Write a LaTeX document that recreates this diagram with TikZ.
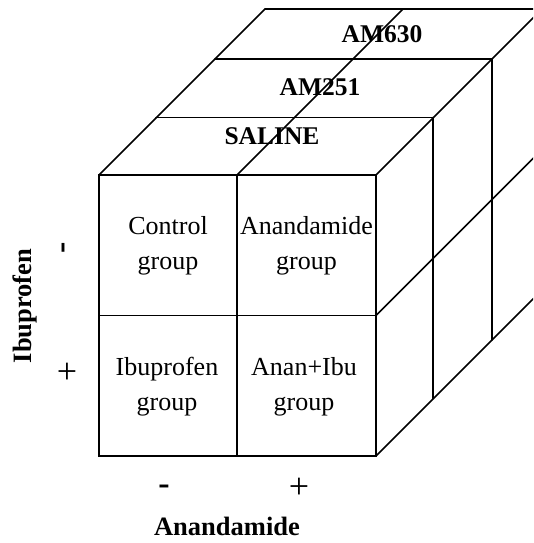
\documentclass[tikz,border=0pt]{standalone}
\usepackage{fontspec}
\setmainfont{Liberation Serif}
\begin{document}
\begin{tikzpicture}[x=1pt,y=-1pt,
  edge/.style={line width=1.7pt,line cap=round,line join=miter},
  celltext/.style={align=center,font=\fontsize{26}{35}\selectfont,inner sep=0pt},
  layerlabel/.style={anchor=base,font=\fontsize{25.5}{30}\selectfont\bfseries,inner sep=0pt},
  axislabel/.style={font=\fontsize{26.5}{30}\selectfont\bfseries,inner sep=0pt},
  signtext/.style={font=\fontsize{36}{38}\selectfont,inner sep=0pt},
  minustext/.style={font=\fontsize{34}{36}\selectfont\bfseries,inner sep=0pt}]
\useasboundingbox (0,0) rectangle (533,543);
\clip (0,0) rectangle (533,543);
% front face corners
\coordinate (ftl) at (99,175);
\coordinate (ftm) at (237,175);
\coordinate (ftr) at (376,175);
\coordinate (fml) at (99,315.5);
\coordinate (fmm) at (237,315.5);
\coordinate (fmr) at (376,315.5);
\coordinate (fbl) at (99,456);
\coordinate (fbm) at (237,456);
\coordinate (fbr) at (376,456);
% back layer corners
\coordinate (atl) at (156,117.5);
\coordinate (atr) at (433,117.5);
\coordinate (abr) at (433,398.5);
\coordinate (btl) at (215,59);
\coordinate (btr) at (492,59);
\coordinate (bbr) at (492,340);
\coordinate (ctl) at (265,9);
\coordinate (ctm) at (403,9);
\coordinate (ctr) at (542,9);
\coordinate (cmr) at (542,149.5);
\coordinate (cbr) at (542,290);
% labels
\node[layerlabel] (saline) at (272,144) {SALINE};
\node[layerlabel] (am251) at (320,95) {AM251};
\node[layerlabel] (am630) at (382,43) {AM630};
\node[celltext] (c11) at (168,246) {Control\\group};
\node[celltext] (c12) at (306.5,246) {Anandamide\\group};
\node[celltext] (c21) at (167,386.5) {Ibuprofen\\group};
\node[celltext] (c22) at (304,386.5) {Anan+Ibu\\group};
\node[axislabel,rotate=90] (ibu) at (25,306) {Ibuprofen};
\node[minustext,rotate=90] (ibuminus) at (67,248) {-};
\node[signtext] (ibuplus) at (67,373) {+};
\node[minustext] (ananminus) at (164,490) {-};
\node[signtext] (ananplus) at (299,488) {+};
\node[axislabel,anchor=base] (anan) at (227,535) {Anandamide};
% front face
\draw[edge] (ftl) rectangle (fbr);
\draw[edge] (ftm) -- (fbm);
\draw[edge] (fml) -- (fmr);
% top face
\draw[edge] (atl) -- (atr);
\draw[edge] (btl) -- (btr);
\draw[edge] (ctl) -- (ctr);
\draw[edge] (ftl) -- (ctl);
\draw[edge] (ftm) -- (ctm);
\draw[edge] (ftr) -- (ctr);
% right face
\draw[edge] (atr) -- (abr);
\draw[edge] (btr) -- (bbr);
\draw[edge] (ctr) -- (cbr);
\draw[edge] (fmr) -- (cmr);
\draw[edge] (fbr) -- (cbr);
\end{tikzpicture}
\end{document}
